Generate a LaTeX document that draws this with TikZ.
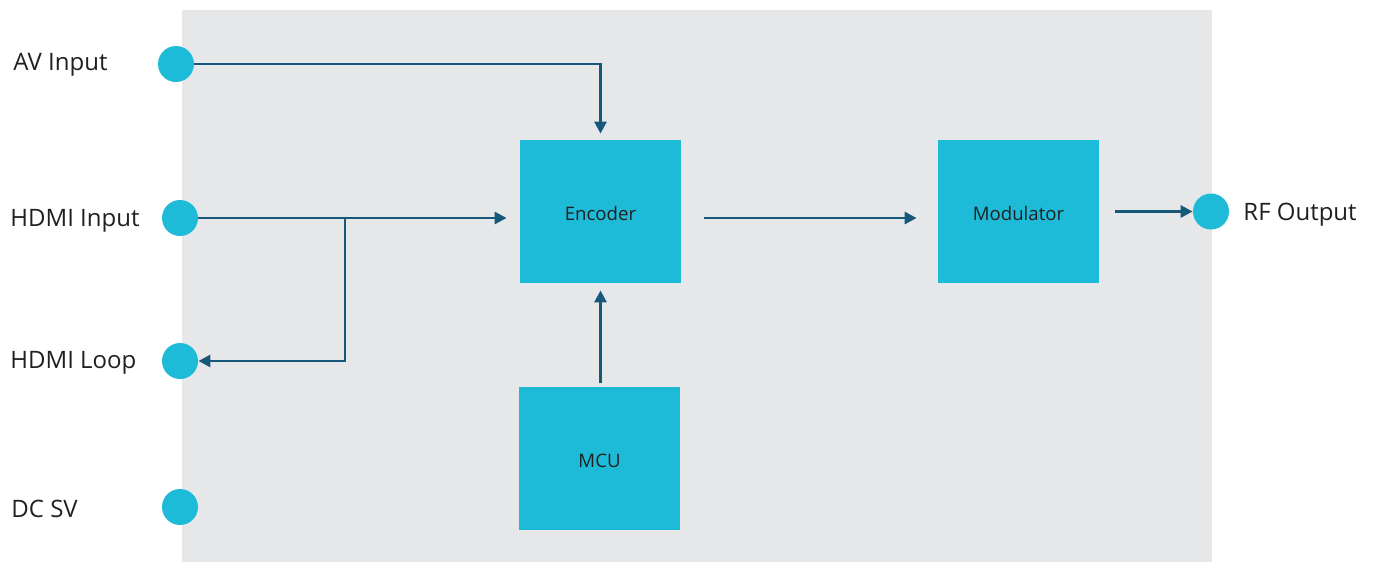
\documentclass[tikz,border=0pt]{standalone}
\usepackage{tikz}
\usepackage{xcolor}
\usepackage{fontspec}
\setmainfont{Open Sans}
\usetikzlibrary{positioning,
	calc,
	arrows.meta}
\definecolor{bggray}{HTML}{E6E7E9}
\definecolor{blk}{HTML}{1EBBD8}
\definecolor{wire}{HTML}{16587A}
\definecolor{txt}{HTML}{231F20}
\tikzstyle{port}=[circle, fill=blk, minimum size=18pt, inner sep=0]
\tikzstyle{lbl}=[anchor=west, inner sep=0, text=txt, font=\fontsize{12}{14}\selectfont]
\tikzstyle{unit}=[fill=blk, minimum width=80.5pt, minimum height=71.5pt, inner sep=0,
		text=txt, font=\fontsize{9.3}{11}\selectfont, text height=9.8pt, text depth=1pt]
\tikzstyle{flow}=[draw=wire, line width=1.4pt, -{Triangle[length=6pt,width=6pt]}]

\begin{document}
\begin{tikzpicture}[x=0.5pt, y=-0.5pt]
                \useasboundingbox (0,0) rectangle (1375,563);
                \fill[bggray] (182,10) rectangle (1212,562);
                % ports
                \node[port] (av) at (176,64) {};
                \node[port] (hin) at (180,218) {};
                \node[port] (hloop) at (180,361) {};
                \node[port] (dc) at (180,507) {};
                \node[port] (rf) at (1211,211.5) {};
                \node[lbl] (avl) at (13,65) {AV Input};
                \node[lbl] (hinl) at (10,221) {HDMI Input};
                \node[lbl] (hloopl) at (10,363) {HDMI Loop};
                \node[lbl] (dcl) at (11,509) {DC SV};
                \node[lbl] (rfl) at (1243,215) {RF Output};
                % blocks
                \node[unit] (enc) at (600.5,211.5) {Encoder};
                \node[unit] (mod) at (1018.5,211.5) {Modulator};
                \node[unit] (mcu) at (599.5,458.5) {MCU};
                \coordinate (split) at (345,218);
                % connections
                \draw[flow, shorten >=3pt] (av) -- (av -| enc) -- (enc.north);
                \draw[flow, shorten >=6.5pt] (hin) -- (hin -| enc.west);
                \draw[flow] (split) |- (hloop);
                \draw[flow, shorten <=11.5pt, shorten >=10.5pt] (enc.east |- hin) -- (mod.west |- hin);
                \draw[flow, shorten <=8pt] (mod) -- (rf);
                \draw[flow, shorten <=2pt, shorten >=3.5pt] (mcu.north -| enc) -- (enc.south);
            \end{tikzpicture}
\end{document}
